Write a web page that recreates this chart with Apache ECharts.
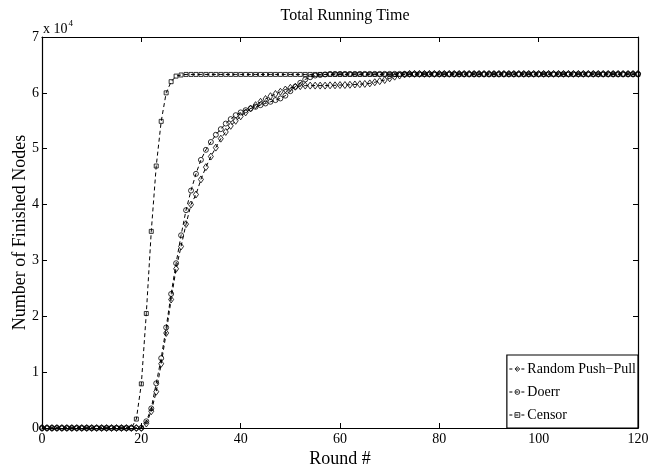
<!DOCTYPE html>
<html>
<head>
<meta charset="utf-8">
<script src="https://cdn.jsdelivr.net/npm/echarts@6/dist/echarts.min.js"></script>
<style>
  html, body { margin: 0; padding: 0; background: #fff; }
  #chart { width: 649px; height: 468px; }
</style>
</head>
<body>
<div id="chart"></div>
<script>
// Rounds 0..120, one sample per round
const rounds = [];
for (let r = 0; r <= 120; r++) rounds.push(r);

const seriesNames = ['Random Push\u2212Pull', 'Doerr', 'Censor'];

// Number of finished nodes per round
const randomPushPull = [
  0,0,0,0,0,0,0,0,0,0,
  0,0,0,0,0,0,0,0,0,0,
  0,800,3000,6500,11500,17000,23000,28500,32500,36500,
  40000,41800,44500,46700,48600,50200,51800,53000,54100,55000,
  55800,56500,57200,57800,58400,58900,59400,59800,60200,60600,
  60900,61100,61200,61300,61300,61300,61300,61300,61350,61350,
  61400,61400,61450,61500,61550,61600,61700,61900,62100,62300,
  62600,62900,63100,63300,63400,63400,63400,63400,63400,63400,
  63400,63400,63400,63400,63400,63400,63400,63400,63400,63400,
  63400,63400,63400,63400,63400,63400,63400,63400,63400,63400,
  63400,63400,63400,63400,63400,63400,63400,63400,63400,63400,
  63400,63400,63400,63400,63400,63400,63400,63400,63400,63400,
  63400
];
const doerr = [
  0,0,0,0,0,0,0,0,0,0,
  0,0,0,0,0,0,0,0,0,0,
  0,1200,3500,8000,12500,18000,24000,29500,34500,39000,
  42500,45500,48000,49800,51200,52500,53500,54500,55300,56000,
  56500,56900,57200,57500,57800,58100,58400,58700,59000,59500,
  60300,61100,61800,62400,62800,63100,63200,63300,63400,63400,
  63400,63400,63400,63400,63400,63400,63400,63400,63400,63400,
  63400,63400,63400,63400,63400,63400,63400,63400,63400,63400,
  63400,63400,63400,63400,63400,63400,63400,63400,63400,63400,
  63400,63400,63400,63400,63400,63400,63400,63400,63400,63400,
  63400,63400,63400,63400,63400,63400,63400,63400,63400,63400,
  63400,63400,63400,63400,63400,63400,63400,63400,63400,63400,
  63400
];
const censor = [
  0,0,0,0,0,0,0,0,0,0,
  0,0,0,0,0,0,0,0,0,1600,
  7900,20500,35200,46900,54900,60000,62000,63000,63200,63300,
  63300,63300,63300,63300,63300,63300,63300,63300,63300,63300,
  63300,63300,63300,63300,63300,63300,63300,63300,63300,63300,
  63300,63300,63300,63300,63300,63300,63300,63300,63300,63300,
  63300,63300,63300,63300,63300,63300,63300,63300,63300,63300,
  63300,63300,63300,63300,63300,63300,63300,63300,63300,63300,
  63300,63300,63300,63300,63300,63300,63300,63300,63300,63300,
  63300,63300,63300,63300,63300,63300,63300,63300,63300,63300,
  63300,63300,63300,63300,63300,63300,63300,63300,63300,63300,
  63300,63300,63300,63300,63300,63300,63300,63300,63300,63300,
  63300
];

const FONT = 'Liberation Serif';
const pairs = ys => rounds.map((r, i) => [r, ys[i]]);

// Hollow markers: transparent fill with a thin black outline
function lineSeries(name, ys, symbol, size) {
  return {
    name: name,
    type: 'line',
    data: pairs(ys),
    symbol: symbol,
    symbolSize: size,
    showAllSymbol: true,
    animation: false,
    lineStyle: { color: '#000', width: 1, type: [4, 3] },
    itemStyle: { color: 'rgba(255,255,255,0)', borderColor: '#000', borderWidth: 0.8 },
    emphasis: { disabled: true }
  };
}

const chart = echarts.init(document.getElementById('chart'), null, { renderer: 'canvas' });

function axisBase() {
  return {
    axisLine: { show: true, onZero: false, lineStyle: { color: '#000', width: 1.2 } },
    axisTick: { show: true, inside: true, length: 5, lineStyle: { color: '#000' } },
    splitLine: { show: false }
  };
}

chart.setOption({
  backgroundColor: '#fff',
  animation: false,
  title: {
    text: 'Total Running Time',
    left: 340, top: 3, textAlign: 'center',
    textStyle: { fontFamily: FONT, fontSize: 16, fontWeight: 'normal', color: '#000' }
  },
  grid: { left: 42, right: 11, top: 37, bottom: 40, containLabel: false, outerBoundsMode: 'none' },
  legend: {
    orient: 'vertical',
    right: 11, bottom: 40,
    data: seriesNames,
    itemWidth: 16, itemHeight: 6, itemGap: 9,
    padding: [7, 2, 6, 2],
    backgroundColor: '#fff',
    borderColor: '#000', borderWidth: 1.2,
    itemStyle: { color: 'rgba(255,255,255,0)', borderColor: '#000', borderWidth: 0.8 },
    lineStyle: { color: '#000', width: 1, type: [3, 3] },
    textStyle: { fontFamily: FONT, fontSize: 14, color: '#000', padding: [0, 0, 0, -3] },
    selectedMode: false
  },
  xAxis: [
    Object.assign(axisBase(), {
      type: 'value', min: 0, max: 120, interval: 20,
      name: 'Round #', nameLocation: 'middle', nameGap: 22, nameMoveOverlap: false,
      nameTextStyle: { fontFamily: FONT, fontSize: 18, color: '#000' },
      axisLabel: { fontFamily: FONT, fontSize: 14, color: '#000', margin: 4 }
    }),
    Object.assign(axisBase(), {
      type: 'value', min: 0, max: 120, interval: 20, position: 'top',
      axisLabel: { show: false }
    })
  ],
  yAxis: [
    Object.assign(axisBase(), {
      type: 'value', min: 0, max: 70000, interval: 10000,
      name: 'Number of Finished Nodes', nameLocation: 'middle', nameGap: 13, nameMoveOverlap: false,
      nameTextStyle: { fontFamily: FONT, fontSize: 18, color: '#000' },
      axisLabel: { fontFamily: FONT, fontSize: 14, color: '#000', margin: 3,
        formatter: v => String(v / 10000) }
    }),
    Object.assign(axisBase(), {
      type: 'value', min: 0, max: 70000, interval: 10000, position: 'right',
      axisLabel: { show: false }
    })
  ],
  graphic: [{
    type: 'text', left: 43, top: 19,
    style: {
      text: '{b|x 10}{s|4}',
      rich: {
        b: { fontFamily: FONT, fontSize: 14, fill: '#000', verticalAlign: 'bottom' },
        s: { fontFamily: FONT, fontSize: 9, fill: '#000', verticalAlign: 'top', padding: [0, 0, 8, 1] }
      }
    }
  }],
  series: [
    lineSeries(seriesNames[0], randomPushPull, 'diamond', [5, 7]),
    lineSeries(seriesNames[1], doerr, 'circle', 5),
    lineSeries(seriesNames[2], censor, 'rect', 4)
  ]
});
</script>
</body>
</html>
